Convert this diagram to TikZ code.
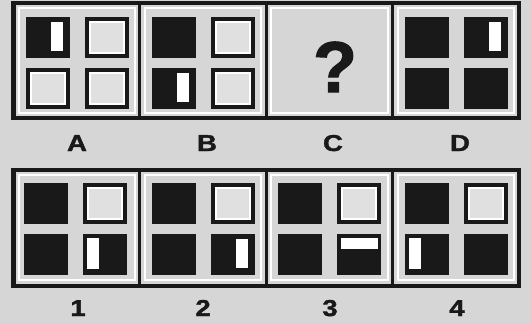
\documentclass[tikz,border=0pt]{standalone}
\usepackage{fontspec}
\setmainfont{Liberation Sans}[BoldFeatures={FakeBold=1.5}]
\usetikzlibrary{positioning}

\definecolor{paper}{gray}{0.84}
\definecolor{ink}{gray}{0.1}
\definecolor{pale}{gray}{0.88}

% panel frame, #1 = left, #2 = top (pixels)
\newcommand{\panelframe}[2]{%
  \draw[ink, line width=3] (#1,#2) rectangle ++(126.4,115);
  \draw[white, line width=2] (#1+5,#2+5) rectangle ++(116.4,105);
}
% cells, #1 = left, #2 = top
\newcommand{\blankcell}[2]{%
  \fill[ink] (#1,#2) rectangle ++(44,41);
  \fill[white] (#1+4,#2+4) rectangle ++(36,33);
  \fill[pale] (#1+6,#2+6) rectangle ++(32,29);
}
\newcommand{\darkcell}[2]{\fill[ink] (#1,#2) rectangle ++(44,41);}
\newcommand{\slotright}[2]{\fill[white] (#1+25,#2+5) rectangle ++(12,29);}
\newcommand{\slotleft}[2]{\fill[white] (#1+4,#2+4) rectangle ++(12,31);}
\newcommand{\slottop}[2]{\fill[white] (#1+4,#2+4) rectangle ++(37,11);}

\begin{document}
\begin{tikzpicture}[x=1pt, y=-1pt,
    lbl/.style={anchor=base, inner sep=0pt, text=ink, font=\fontsize{23}{23}\selectfont\bfseries}]
  \useasboundingbox (0,0) rectangle (531,324);
  \fill[paper] (0,0) rectangle (531,324);

  % Top row: A B C D
  \panelframe{13.5}{3} \panelframe{139.9}{3} \panelframe{266.3}{3} \panelframe{392.7}{3}
  \draw[ink, line width=4.5] (13.5,3) rectangle (519.1,118);
  % A
  \darkcell{25.5}{17} \slotright{25.5}{17} \blankcell{84.5}{17}
  \blankcell{25.5}{68} \blankcell{84.5}{68}
  % B
  \darkcell{151.9}{17} \blankcell{210.9}{17}
  \darkcell{151.9}{68} \slotright{151.9}{68} \blankcell{210.9}{68}
  % C
  \node[anchor=base, inner sep=0pt, font=\fontsize{72}{72}\selectfont\bfseries, text=ink]
    (ask) at (335,92) {?};
  % D
  \darkcell{404.7}{17} \darkcell{463.7}{17} \slotright{463.7}{17}
  \darkcell{404.7}{68} \darkcell{463.7}{68}

  \node[lbl] (labA) at (77,151) {\scalebox{1.2}[1]{A}};
  \node[lbl] (labB) at (207,151) {\scalebox{1.2}[1]{B}};
  \node[lbl] (labC) at (333,151) {\scalebox{1.2}[1]{C}};
  \node[lbl] (labD) at (460,151) {\scalebox{1.2}[1]{D}};

  % Bottom row: 1 2 3 4
  \panelframe{13.5}{170} \panelframe{139.9}{170} \panelframe{266.3}{170} \panelframe{392.7}{170}
  \draw[ink, line width=4.5] (13.5,170) rectangle (519.1,286);
  % 1
  \darkcell{24}{183} \blankcell{83}{183}
  \darkcell{24}{234} \darkcell{83}{234} \slotleft{83}{234}
  % 2
  \darkcell{151.9}{183} \blankcell{210.9}{183}
  \darkcell{151.9}{234} \darkcell{210.9}{234} \slotright{210.9}{234}
  % 3
  \darkcell{278.3}{183} \blankcell{337.3}{183}
  \darkcell{278.3}{234} \darkcell{337.3}{234} \slottop{337.3}{234}
  % 4
  \darkcell{404.7}{183} \blankcell{463.7}{183}
  \darkcell{404.7}{234} \slotleft{404.7}{234} \darkcell{463.7}{234}

  \node[lbl] (lab1) at (78,316) {\scalebox{1.2}[1]{1}};
  \node[lbl] (lab2) at (203,316) {\scalebox{1.2}[1]{2}};
  \node[lbl] (lab3) at (330,316) {\scalebox{1.2}[1]{3}};
  \node[lbl] (lab4) at (457,316) {\scalebox{1.2}[1]{4}};
\end{tikzpicture}
\end{document}
